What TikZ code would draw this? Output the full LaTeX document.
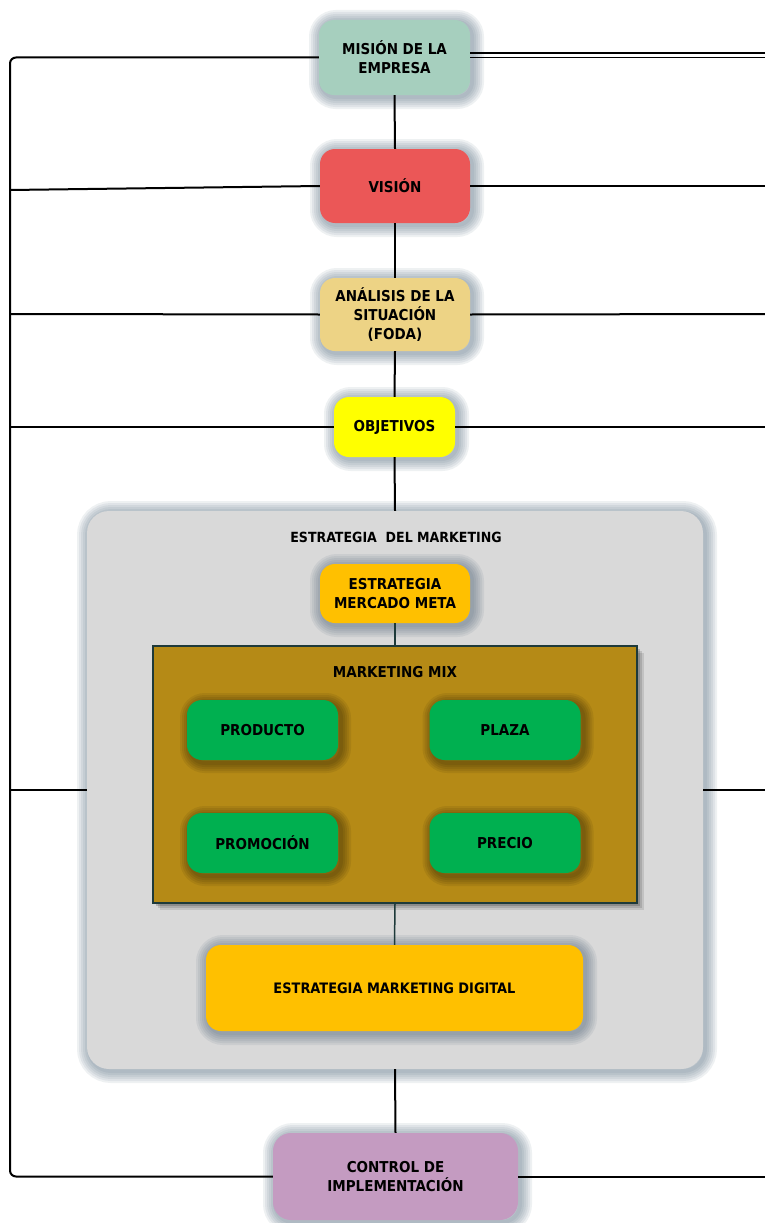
\documentclass[tikz,border=0pt]{standalone}
\usepackage{fontspec}
\setmainfont{DejaVu Sans Condensed}
\definecolor{cmision}{RGB}{166,207,190}
\definecolor{cvision}{RGB}{235,87,87}
\definecolor{canal}{RGB}{237,211,133}
\definecolor{cobj}{RGB}{255,255,0}
\definecolor{cgray}{RGB}{217,217,217}
\definecolor{corange}{RGB}{255,192,0}
\definecolor{cmix}{RGB}{181,138,22}
\definecolor{cmixb}{RGB}{30,58,58}
\definecolor{cgreen}{RGB}{0,176,80}
\definecolor{ccontrol}{RGB}{196,155,193}
\definecolor{glowc}{RGB}{70,95,115}
\tikzset{
  gl/.style={preaction={draw=glowc, draw opacity=.09, line width=#1, transform canvas={xshift=2pt,yshift=-2pt}}},
  glow/.style={gl=24pt, gl=20pt, gl=16pt, gl=12pt, gl=8pt, gl=4pt},
  dg/.style={preaction={draw=black, draw opacity=.07, line width=#1, transform canvas={xshift=3pt,yshift=-3pt}}},
  darkglow/.style={dg=20pt, dg=16pt, dg=12pt, dg=8pt, dg=4pt},
  mixshadow/.style={
    preaction={fill=black, fill opacity=.10, transform canvas={xshift=7pt,yshift=-7pt}},
    preaction={fill=black, fill opacity=.12, transform canvas={xshift=5pt,yshift=-5pt}},
    preaction={fill=black, fill opacity=.18, transform canvas={xshift=3pt,yshift=-3pt}}},
  box/.style={rounded corners=15pt, align=center, inner sep=0pt, text=black, glow},
  greenbox/.style={rounded corners=15pt, align=center, inner sep=0pt, fill=cgreen, darkglow,
    minimum width=151pt, minimum height=60pt},
  label/.style={inner sep=0pt, align=center},
  conn/.style={draw=black, line width=2pt},
  tconn/.style={draw=cmixb, line width=1.5pt},
}
\begin{document}
\begin{tikzpicture}[x=1pt,y=-1pt, font=\bfseries\fontsize{15}{19}\selectfont]
\useasboundingbox (0,0) rectangle (765,1223);

% big strategy box
\node[box, rounded corners=22pt, fill=cgray, minimum width=616pt, minimum height=558pt] (big) at (395,790) {};
\node[label, font=\bfseries\fontsize{14}{17}\selectfont] (bigtitle) at (396,537) {ESTRATEGIA\ \ DEL MARKETING};

% main chain
\node[box, fill=cmision, minimum width=151pt, minimum height=75pt] (mision) at (394.5,57.5) {MISIÓN DE LA\\EMPRESA};
\node[box, fill=cvision, minimum width=150pt, minimum height=74pt] (vision) at (395,186) {VISIÓN};
\node[box, fill=canal, minimum width=150pt, minimum height=73pt] (analisis) at (395,314.5) {ANÁLISIS DE LA\\SITUACIÓN\\(FODA)};
\node[box, fill=cobj, minimum width=121pt, minimum height=60pt] (obj) at (394.5,427) {OBJETIVOS};

\node[box, fill=corange, minimum width=150pt, minimum height=59pt] (meta) at (395,593.5) {ESTRATEGIA\\MERCADO META};

% marketing mix
\node[fill=cmix, draw=cmixb, line width=2pt, mixshadow, minimum width=484pt, minimum height=257pt, inner sep=0pt] (mix) at (395,774.5) {};
\node[label] (mixtitle) at (395,672) {MARKETING MIX};
\node[greenbox] (producto) at (262.5,730) {PRODUCTO};
\node[greenbox] (plaza) at (505,730) {PLAZA};
\node[greenbox] (promocion) at (262.5,843) {PROMOCIÓN};
\node[greenbox] (precio) at (505,843) {PRECIO};

\node[box, fill=corange, minimum width=377pt, minimum height=86pt, font=\bfseries\fontsize{14.4}{17}\selectfont] (digital) at (394.5,988) {ESTRATEGIA\ MARKETING\ DIGITAL};

\node[box, rounded corners=18pt, fill=ccontrol, minimum width=245pt, minimum height=87pt] (control) at (395.5,1176.5) {CONTROL DE\\IMPLEMENTACIÓN};

% free ends
\coordinate (TL) at (10,57.5);
\coordinate (BL) at (10,1176.5);
\coordinate (LV) at (10,190);
\coordinate (LA) at (10,314);
\coordinate (LO) at (10,427);
\coordinate (LB) at (10,790);
\coordinate (RM1) at (765,53.5);
\coordinate (RM2) at (765,57.5);
\coordinate (RV) at (765,186);
\coordinate (RA) at (765,314);
\coordinate (RO) at (765,427);
\coordinate (RB) at (765,790);
\coordinate (RC) at (765,1176.5);

% connectors
\draw[conn, rounded corners=6pt] (mision.west) -- (TL) -- (BL) -- (control.west);
\draw[conn] (LV) -- (vision.west);
\draw[conn] (LA) -- (analisis.west);
\draw[conn] (LO) -- (obj.west);
\draw[conn] (LB) -- (big.west);

\draw[conn, line width=2pt] ([yshift=4pt]mision.east) -- (RM1);
\draw[conn, line width=1.4pt] (mision.east) -- (RM2);
\draw[conn] (vision.east) -- (RV);
\draw[conn] (analisis.east) -- (RA);
\draw[conn] (obj.east) -- (RO);
\draw[conn] (big.east) -- (RB);
\draw[conn] (control.east) -- (RC);

\draw[conn] (mision.south) -- (vision.north);
\draw[conn] (vision.south) -- (analisis.north);
\draw[conn] (analisis.south) -- (obj.north);
\draw[conn] (obj.south) -- (big.north);
\draw[conn] (big.south) -- (control.north);
\draw[tconn] (meta.south) -- (mix.north);
\draw[tconn] (mix.south) -- (digital.north);
\end{tikzpicture}
\end{document}
